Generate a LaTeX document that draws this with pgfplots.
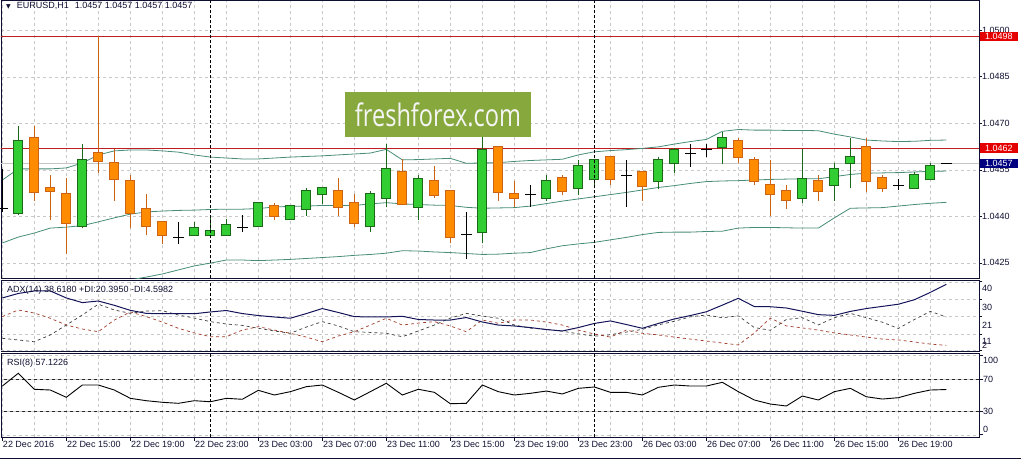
\documentclass[border=0pt]{standalone}
\usepackage{fontspec}
\setmainfont{Liberation Sans}
\newfontfamily\dejavu{DejaVu Sans}
\newfontfamily\wmfont{Open Sans}
\usepackage{pgfplots}
\usepackage{pgfplotstable}
\pgfplotsset{compat=1.18}

\definecolor{bullfill}{RGB}{50,205,50}
\definecolor{bulledge}{RGB}{25,105,25}
\definecolor{bearfill}{RGB}{255,140,0}
\definecolor{bearedge}{RGB}{205,100,20}
\definecolor{band}{RGB}{70,140,120}
\definecolor{lvl}{RGB}{190,30,30}
\definecolor{gridc}{RGB}{200,200,200}
\definecolor{frame}{RGB}{15,15,50}
\definecolor{navybox}{RGB}{0,0,128}
\definecolor{adxc}{RGB}{20,20,90}
\definecolor{pdic}{RGB}{60,60,60}
\definecolor{mdic}{RGB}{160,60,40}
\definecolor{wmgreen}{RGB}{135,168,60}

\newcommand\lab[2]{\smash{\raisebox{#1}{#2}}}

% candles: i open high low close
\pgfplotstableread{
i o h l c
1 1.04412 1.04691 1.04404 1.04643
5 1.04369 1.04632 1.04361 1.04582
12 1.04341 1.04383 1.04339 1.04362
13 1.04341 1.04394 1.04334 1.04353
14 1.04341 1.04392 1.04339 1.04372
16 1.04370 1.04444 1.04368 1.04442
18 1.04390 1.04434 1.04388 1.04432
19 1.04423 1.04490 1.04402 1.04482
20 1.04471 1.04493 1.04440 1.04491
23 1.04370 1.04483 1.04350 1.04471
24 1.04460 1.04632 1.04431 1.04552
26 1.04431 1.04533 1.04388 1.04521
30 1.04350 1.04655 1.04313 1.04614
34 1.04460 1.04533 1.04449 1.04513
36 1.04490 1.04581 1.04470 1.04561
37 1.04521 1.04583 1.04500 1.04581
41 1.04513 1.04592 1.04489 1.04581
42 1.04571 1.04621 1.04541 1.04613
45 1.04623 1.04671 1.04569 1.04652
50 1.04460 1.04616 1.04442 1.04521
52 1.04500 1.04571 1.04449 1.04552
53 1.04571 1.04652 1.04490 1.04590
57 1.04490 1.04544 1.04488 1.04532
58 1.04521 1.04573 1.04519 1.04561
}\bull

\pgfplotstableread{
i o h l c
2 1.04653 1.04691 1.04449 1.04479
3 1.04491 1.04533 1.04388 1.04481
4 1.04471 1.04525 1.04278 1.04379
6 1.04605 1.04980 1.04541 1.04579
7 1.04572 1.04616 1.04449 1.04521
8 1.04514 1.04533 1.04361 1.04412
9 1.04424 1.04472 1.04340 1.04370
10 1.04382 1.04385 1.04311 1.04341
17 1.04432 1.04442 1.04388 1.04402
21 1.04482 1.04525 1.04402 1.04431
22 1.04442 1.04471 1.04366 1.04379
25 1.04542 1.04584 1.04439 1.04441
27 1.04513 1.04562 1.04460 1.04470
28 1.04482 1.04484 1.04313 1.04332
31 1.04625 1.04627 1.04449 1.04479
32 1.04471 1.04514 1.04431 1.04460
35 1.04523 1.04533 1.04470 1.04481
38 1.04590 1.04592 1.04500 1.04521
40 1.04542 1.04544 1.04449 1.04499
46 1.04642 1.04652 1.04571 1.04590
47 1.04581 1.04590 1.04500 1.04513
48 1.04500 1.04582 1.04402 1.04471
49 1.04481 1.04500 1.04423 1.04452
51 1.04513 1.04532 1.04449 1.04481
54 1.04623 1.04652 1.04479 1.04513
55 1.04523 1.04532 1.04479 1.04490
}\bear

\pgfplotstableread{
i o h l c
0 1.04424 1.04553 1.04414 1.04424
11 1.04332 1.04381 1.04311 1.04332
15 1.04363 1.04404 1.04350 1.04363
29 1.04342 1.04413 1.04261 1.04342
33 1.04470 1.04500 1.04431 1.04470
39 1.04532 1.04582 1.04431 1.04532
43 1.04603 1.04633 1.04560 1.04603
44 1.04614 1.04633 1.04590 1.04614
56 1.04500 1.04521 1.04485 1.04500
59 1.04570 1.04570 1.04570 1.04570
}\doji

% Bollinger bands
\pgfplotstableread{
i u m lo
0 1.04517 1.04314 1.04111
1 1.04553 1.04333 1.04114
2 1.04553 1.04346 1.04140
3 1.04553 1.04362 1.04156
4 1.04556 1.04365 1.04169
5 1.04572 1.04370 1.04169
6 1.04598 1.04382 1.04165
7 1.04611 1.04395 1.04178
8 1.04614 1.04407 1.04195
9 1.04614 1.04414 1.04204
10 1.04611 1.04417 1.04214
11 1.04607 1.04419 1.04227
12 1.04598 1.04420 1.04240
13 1.04591 1.04422 1.04249
14 1.04588 1.04423 1.04259
15 1.04585 1.04423 1.04259
16 1.04585 1.04425 1.04257
17 1.04588 1.04430 1.04259
18 1.04591 1.04432 1.04261
19 1.04593 1.04433 1.04264
20 1.04595 1.04435 1.04267
21 1.04598 1.04435 1.04270
22 1.04601 1.04435 1.04274
23 1.04604 1.04440 1.04277
24 1.04616 1.04444 1.04281
25 1.04582 1.04440 1.04289
26 1.04583 1.04438 1.04288
27 1.04585 1.04436 1.04285
28 1.04587 1.04435 1.04283
29 1.04571 1.04429 1.04280
30 1.04572 1.04426 1.04277
31 1.04573 1.04427 1.04278
32 1.04577 1.04428 1.04281
33 1.04580 1.04433 1.04283
34 1.04582 1.04441 1.04295
35 1.04584 1.04449 1.04305
36 1.04598 1.04456 1.04311
37 1.04608 1.04463 1.04316
38 1.04612 1.04470 1.04324
39 1.04615 1.04477 1.04332
40 1.04619 1.04485 1.04341
41 1.04624 1.04493 1.04348
42 1.04633 1.04499 1.04349
43 1.04641 1.04506 1.04349
44 1.04648 1.04512 1.04351
45 1.04674 1.04514 1.04352
46 1.04680 1.04515 1.04362
47 1.04678 1.04517 1.04364
48 1.04678 1.04519 1.04364
49 1.04677 1.04520 1.04363
50 1.04677 1.04521 1.04362
51 1.04676 1.04521 1.04362
52 1.04665 1.04528 1.04395
53 1.04656 1.04535 1.04426
54 1.04646 1.04539 1.04427
55 1.04643 1.04540 1.04428
56 1.04641 1.04541 1.04433
57 1.04642 1.04543 1.04438
58 1.04645 1.04545 1.04442
59 1.04646 1.04546 1.04445
}\bands

% ADX(14), +DI, -DI and RSI(8)
\pgfplotstableread{
i adx pdi mdi rsi
0 31.0 8.5 20.6 61.5
1 33.5 7.6 24.3 77.6
2 34.9 6.6 22.6 57.4
3 34.9 10.4 19.7 56.5
4 31.0 15.9 15.9 47.3
5 28.4 21.5 13.7 62.8
6 29.3 27.5 12.2 62.8
7 26.9 24.3 18.7 56.5
8 24.1 22.4 23.2 46.0
9 22.4 23.7 20.6 43.0
10 22.2 23.9 17.6 41.0
11 22.2 21.5 14.1 39.7
12 22.2 19.8 11.5 43.0
13 23.2 17.8 9.4 41.7
14 24.0 16.5 9.4 46.0
15 22.3 15.7 13.1 44.8
16 21.2 14.1 15.0 56.1
17 20.4 12.6 13.1 50.2
18 19.7 11.3 11.3 54.4
19 22.3 14.8 9.2 60.7
20 25.1 17.8 6.6 62.8
21 22.9 15.4 9.8 53.6
22 20.6 12.2 12.2 43.9
23 20.4 11.8 15.9 54.4
24 20.4 11.3 19.7 65.0
25 20.8 9.4 15.9 50.2
26 19.0 12.6 17.0 57.4
27 18.7 15.9 17.8 53.6
28 18.7 19.8 15.4 39.2
29 20.1 22.4 12.2 39.7
30 17.6 20.9 18.7 62.8
31 15.9 19.7 16.9 54.4
32 15.4 15.9 18.7 50.2
33 14.5 14.2 18.7 52.3
34 13.4 13.5 17.6 55.2
35 12.6 12.5 15.9 51.5
36 14.5 11.0 13.1 58.6
37 16.8 9.7 10.9 60.3
38 18.2 10.5 9.2 53.6
39 16.2 12.0 13.1 53.6
40 14.1 13.5 11.3 50.2
41 16.8 16.0 10.4 59.9
42 19.3 18.0 9.2 62.8
43 21.2 20.5 8.1 61.5
44 23.3 21.5 7.0 61.5
45 27.0 20.0 5.9 66.2
46 30.8 21.0 4.8 54.4
47 26.2 14.5 11.5 43.9
48 26.1 13.0 19.8 38.8
49 25.4 19.0 15.4 36.3
50 23.6 20.0 14.3 48.9
51 21.7 16.0 13.1 43.9
52 21.3 20.0 11.5 54.4
53 23.5 22.4 10.4 58.6
54 25.1 20.0 9.2 48.0
55 26.3 17.5 8.1 45.1
56 27.5 14.0 7.6 46.8
57 30.0 19.0 6.5 52.3
58 34.1 23.5 5.3 56.5
59 38.6 20.4 4.6 57.1
}\ind

\pgfplotsset{
  mt4/.style={
    scale only axis, width=978pt, xmin=-0.081, xmax=61.04,
    clip mode=individual,
    axis line style={frame, line width=0.8pt},
    grid=both,
    major grid style={gridc, dash pattern=on 3pt off 3pt, line width=0.5pt},
    minor grid style={gridc, dash pattern=on 3pt off 3pt, line width=0.5pt},
    xtick={0,4,...,56}, minor xtick={2,6,...,58},
    xticklabels={},
    yticklabel pos=right, ytick pos=right,
    tick align=outside, major tick length=3pt, minor tick length=0pt,
    tick style={frame, line width=0.6pt},
    ticklabel style={font=\fontsize{9}{10}\selectfont, text=frame},
    yticklabel style={anchor=west, inner sep=0pt},
  },
  wick/.style={draw=none, mark=none, forget plot,
    error bars/.cd, y dir=plus, y explicit, error mark=none,
    error bar style={draw=#1, line width=1pt}},
  body/.style 2 args={draw=none, mark=none, forget plot,
    error bars/.cd, y dir=plus, y explicit, error mark=none,
    error bar style={draw=#1, line width=#2}},
}

\begin{document}
\begin{tikzpicture}
\path[use as bounding box] (0,0) rectangle (1021pt,461pt);

% ---------- price window ----------
\begin{axis}[mt4, at={(1pt,182.5pt)}, anchor=south west, height=278pt,
  ymin=1.041994, ymax=1.050961,
  ytick={1.0425,1.0440,1.0455,1.0470,1.0485,1.0500},
  yticklabels={1.0425,1.0440,1.0455,1.0470,1.0485,1.0500},
  xtick style={draw=none}]
  % bid line and horizontal levels
  \addplot[gray!45, line width=0.6pt] coordinates {(-1,1.0457) (62,1.0457)};
  \addplot[lvl, line width=0.8pt] coordinates {(-1,1.0498) (62,1.0498)};
  \addplot[lvl, line width=0.8pt] coordinates {(-1,1.0462) (62,1.0462)};
  % Bollinger bands
  \addplot[band, line width=0.8pt] table[x=i, y=u] {\bands};
  \addplot[band, line width=0.8pt] table[x=i, y=m] {\bands};
  \addplot[band, line width=0.8pt] table[x=i, y=lo] {\bands};
  % wicks
  \addplot[wick=bulledge] table[x=i, y=l, y error expr=\thisrow{h}-\thisrow{l}] {\bull};
  \addplot[wick=bearedge] table[x=i, y=l, y error expr=\thisrow{h}-\thisrow{l}] {\bear};
  \addplot[wick=black] table[x=i, y=l, y error expr=\thisrow{h}-\thisrow{l}] {\doji};
  % bodies
  \addplot[body={bulledge}{10pt}] table[x=i, y expr=\thisrow{o}-0.00003, y error expr=\thisrow{c}-\thisrow{o}+0.00006] {\bull};
  \addplot[body={bullfill}{8pt}] table[x=i, y=o, y error expr=\thisrow{c}-\thisrow{o}] {\bull};
  \addplot[body={bearedge}{10pt}] table[x=i, y expr=\thisrow{c}-0.00003, y error expr=\thisrow{o}-\thisrow{c}+0.00006] {\bear};
  \addplot[body={bearfill}{8pt}] table[x=i, y=c, y error expr=\thisrow{o}-\thisrow{c}] {\bear};
  \addplot[only marks, mark=-, mark size=5.5pt, mark options={black, line width=1pt}] table[x=i, y=c] {\doji};
  % period separators
  \draw[black, line width=0.8pt, dash pattern=on 3pt off 2pt] ({axis cs:13,1.045}|-{rel axis cs:0,0}) -- ({axis cs:13,1.045}|-{rel axis cs:0,1});
  \draw[black, line width=0.8pt, dash pattern=on 3pt off 2pt] ({axis cs:37,1.045}|-{rel axis cs:0,0}) -- ({axis cs:37,1.045}|-{rel axis cs:0,1});
  \coordinate (b98) at (axis cs:61.04,1.0498);
  \coordinate (b62) at (axis cs:61.04,1.0462);
  \coordinate (b57) at (axis cs:61.04,1.0457);
\end{axis}

% ---------- ADX window ----------
\begin{axis}[mt4, at={(1pt,110pt)}, anchor=south west, height=71pt,
  ymin=1.45, ymax=41,
  ytick={11,21,30,40},
  yticklabels={\lab{-10.2pt}{11},\lab{-12.2pt}{21},\lab{-11.2pt}{30},\lab{-9.7pt}{40}},
  extra y ticks={2}, extra y tick labels={\lab{1.8pt}{2}},
  xtick style={draw=none}]
  \addplot[pdic, line width=0.7pt, dash pattern=on 3pt off 3pt] table[x=i, y=pdi] {\ind};
  \addplot[mdic, line width=0.7pt, dash pattern=on 3pt off 3pt] table[x=i, y=mdi] {\ind};
  \addplot[adxc, line width=1pt] table[x=i, y=adx] {\ind};
  \draw[black, line width=0.8pt, dash pattern=on 3pt off 2pt] ({axis cs:13,20}|-{rel axis cs:0,0}) -- ({axis cs:13,20}|-{rel axis cs:0,1});
  \draw[black, line width=0.8pt, dash pattern=on 3pt off 2pt] ({axis cs:37,20}|-{rel axis cs:0,0}) -- ({axis cs:37,20}|-{rel axis cs:0,1});
\end{axis}

% ---------- RSI window ----------
\begin{axis}[mt4, at={(1pt,24pt)}, anchor=south west, height=84pt,
  ymin=-2.8, ymax=103.2,
  ytick={0,30,70,100},
  yticklabels={\lab{2.3pt}{0},30,70,\lab{-7.7pt}{100}},
  xtick pos=left, major tick length=4pt,
  xticklabels={22 Dec 2016,22 Dec 15:00,22 Dec 19:00,22 Dec 23:00,23 Dec 03:00,23 Dec 07:00,23 Dec 11:00,23 Dec 15:00,23 Dec 19:00,23 Dec 23:00,26 Dec 03:00,26 Dec 07:00,26 Dec 11:00,26 Dec 15:00,26 Dec 19:00},
  xticklabel style={anchor=north west, inner sep=0pt, xshift=0.5pt}]
  \addplot[black!85, line width=0.7pt, dash pattern=on 3pt off 3pt] coordinates {(-1,70) (62,70)};
  \addplot[black!85, line width=0.7pt, dash pattern=on 3pt off 3pt] coordinates {(-1,30) (62,30)};
  \addplot[black, line width=0.9pt] table[x=i, y=rsi] {\ind};
  \draw[black, line width=0.8pt, dash pattern=on 3pt off 2pt] ({axis cs:13,50}|-{rel axis cs:0,0}) -- ({axis cs:13,50}|-{rel axis cs:0,1});
  \draw[black, line width=0.8pt, dash pattern=on 3pt off 2pt] ({axis cs:37,50}|-{rel axis cs:0,0}) -- ({axis cs:37,50}|-{rel axis cs:0,1});
\end{axis}

% price tags on the scale
\node[fill=red!90!black, text=white, anchor=west, inner xsep=5pt, inner ysep=1.5pt, font=\fontsize{9}{10}\selectfont] at ([xshift=1pt]b98) {1.0498};
\node[fill=red!90!black, text=white, anchor=west, inner xsep=5pt, inner ysep=1.5pt, font=\fontsize{9}{10}\selectfont] at ([xshift=1pt]b62) {1.0462};
\node[fill=navybox, text=white, anchor=west, inner xsep=5pt, inner ysep=1.5pt, font=\fontsize{9}{10}\selectfont] at ([xshift=1pt]b57) {1.0457};

% window captions
\node[anchor=west, inner sep=0pt, text=frame, font=\fontsize{9}{10}\selectfont] at (6pt,455pt) {{\dejavu\fontsize{6}{6}\selectfont ▼}\hspace{6pt}EURUSD,H1\hspace{6pt}1.0457 1.0457 1.0457 1.0457};
\node[anchor=west, inner sep=0pt, text=frame, font=\fontsize{9}{10}\selectfont] at (7pt,171pt) {ADX(14) 38.6180 +DI:20.3950 -DI:4.5982};
\node[anchor=west, inner sep=0pt, text=frame, font=\fontsize{9}{10}\selectfont] at (7pt,98pt) {RSI(8) 57.1226};

% watermark
\node[fill=wmgreen, minimum width=186pt, minimum height=44.5pt, inner sep=0pt] at (438pt,346.5pt) {\color{white!96!black}\wmfont\fontsize{31}{31}\selectfont\scalebox{0.76}[1]{freshforex.com}};

\draw[frame, line width=1pt] (0,2.5pt) -- (1021pt,2.5pt);
\end{tikzpicture}
\end{document}
